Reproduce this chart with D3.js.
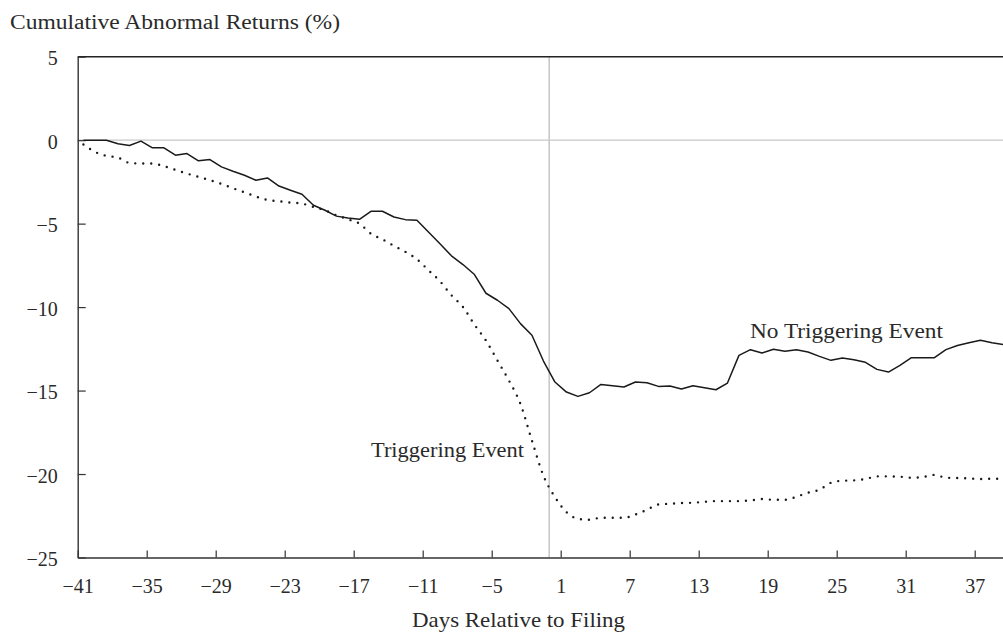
<!DOCTYPE html>
<html>
<head>
<meta charset="utf-8">
<script src="https://cdn.jsdelivr.net/npm/d3@7"></script>
<style>
  body { margin: 0; background: #fff; }
  svg { display: block; overflow: hidden; }
  text { font-family: 'Liberation Serif', 'Times New Roman', serif; fill: #2a2a2a; }
</style>
</head>
<body>
<div id="chart"></div>
<script>
// Days relative to filing (-41 .. 39)
const days = d3.range(-41, 40);

// No triggering event (solid line)
const noTrigger = [
  0, 0, 0, -0.22, -0.32, -0.06, -0.46, -0.46, -0.9, -0.8,
  -1.24, -1.16, -1.6, -1.86, -2.1, -2.4, -2.26, -2.75, -3.0, -3.24,
  -3.9, -4.2, -4.55, -4.66, -4.74, -4.26, -4.26, -4.6, -4.76, -4.8,
  -5.5, -6.2, -6.93, -7.45, -8.05, -9.17, -9.59, -10.09, -10.99, -11.69,
  -13.23, -14.49, -15.09, -15.35, -15.13, -14.63, -14.71, -14.79, -14.49, -14.53,
  -14.75, -14.73, -14.91, -14.71, -14.83, -14.95, -14.55, -12.89, -12.55, -12.75,
  -12.53, -12.65, -12.55, -12.69, -12.95, -13.19, -13.05, -13.15, -13.31, -13.73,
  -13.89, -13.49, -13.03, -13.03, -13.03, -12.55, -12.3, -12.13, -11.99, -12.13,
  -12.25
];

// Triggering event (dotted line)
const trigger = [
  -0.26, -0.7, -0.94, -1.04, -1.36, -1.4, -1.4, -1.56, -1.78, -2.0,
  -2.2, -2.4, -2.62, -2.88, -3.12, -3.38, -3.58, -3.66, -3.74, -3.8,
  -4.0, -4.2, -4.5, -4.74, -5.0, -5.6, -5.94, -6.33, -6.69, -7.13,
  -7.79, -8.45, -9.29, -9.99, -11.05, -12.0, -13.2, -14.4, -15.8, -18.0,
  -20.1, -21.38, -22.28, -22.68, -22.74, -22.62, -22.62, -22.62, -22.42, -22.14,
  -21.82, -21.78, -21.74, -21.72, -21.66, -21.62, -21.62, -21.62, -21.58, -21.5,
  -21.54, -21.54, -21.36, -21.12, -20.94, -20.52, -20.4, -20.38, -20.3, -20.14,
  -20.14, -20.16, -20.22, -20.18, -20.05, -20.22, -20.24, -20.26, -20.3, -20.28,
  -20.28
];

const xTicks = d3.range(-41, 38, 6);
const yTicks = [5, 0, -5, -10, -15, -20, -25];

const width = 1003;
const height = 632;
const plotLeft = 77.7;
const plotRight = 1009.2;
const plotTop = 56.7;
const plotBottom = 557.5;

const svg = d3.select('#chart')
  .append('svg')
  .attr('width', width)
  .attr('height', height);

// Band scale for the daily points, linear scale for the tick positions
const xBand = d3.scaleBand()
  .domain(days)
  .range([plotLeft, plotRight])
  .padding(0);

const xAxisScale = d3.scaleLinear()
  .domain([days[0], days[days.length - 1] + 1])
  .range([plotLeft, plotRight]);

const y = d3.scaleLinear()
  .domain([-25, 5])
  .range([plotBottom, plotTop]);

const xPos = d => xBand(d) + xBand.bandwidth() / 2;

// Zero line and filing-day line
svg.append('line')
  .attr('x1', plotLeft).attr('x2', plotRight)
  .attr('y1', y(0)).attr('y2', y(0))
  .attr('stroke', '#c8c8c8')
  .attr('stroke-width', 1.2);

svg.append('line')
  .attr('x1', xAxisScale(0)).attr('x2', xAxisScale(0))
  .attr('y1', plotTop).attr('y2', plotBottom)
  .attr('stroke', '#c8c8c8')
  .attr('stroke-width', 1.6);

// Top border
svg.append('line')
  .attr('x1', plotLeft).attr('x2', plotRight)
  .attr('y1', y(5)).attr('y2', y(5))
  .attr('stroke', '#222')
  .attr('stroke-width', 1.4);

// Axes
const yAxis = d3.axisLeft(y)
  .tickValues(yTicks)
  .tickSize(-8)
  .tickSizeOuter(0)
  .tickPadding(20);

const gy = svg.append('g')
  .attr('transform', `translate(${plotLeft},0)`)
  .call(yAxis);
gy.select('.domain').attr('stroke', '#333').attr('stroke-width', 1.4);
gy.selectAll('.tick line').attr('stroke', '#333').attr('stroke-width', 1.2);
gy.selectAll('.tick text')
  .attr('dy', '0.4em')
  .style('font-size', '20px')
  .style('font-family', "'Liberation Serif', serif")
  .attr('fill', '#2a2a2a');

const xAxis = d3.axisBottom(xAxisScale)
  .tickValues(xTicks)
  .tickSize(-7)
  .tickSizeOuter(0)
  .tickPadding(21)
  .tickFormat(d3.format('d'));

const gx = svg.append('g')
  .attr('transform', `translate(0,${plotBottom})`)
  .call(xAxis);
gx.select('.domain').attr('stroke', '#333').attr('stroke-width', 1.4);
gx.selectAll('.tick line').attr('stroke', '#333').attr('stroke-width', 1.2);
gx.selectAll('.tick text')
  .style('font-size', '20px')
  .style('font-family', "'Liberation Serif', serif")
  .attr('fill', '#2a2a2a');

// Lines
const solidLine = d3.line()
  .x((d, i) => xPos(days[i]))
  .y(d => y(d));

const dottedLine = d3.line()
  .x((d, i) => xPos(days[i]))
  .y(d => y(d))
  .curve(d3.curveMonotoneX);

svg.append('path')
  .datum(trigger)
  .attr('d', dottedLine)
  .attr('fill', 'none')
  .attr('stroke', '#1a1a1a')
  .attr('stroke-width', 2.4)
  .attr('stroke-linecap', 'round')
  .attr('stroke-dasharray', '0,8');

svg.append('path')
  .datum(noTrigger)
  .attr('d', solidLine)
  .attr('fill', 'none')
  .attr('stroke', '#1a1a1a')
  .attr('stroke-width', 1.5)
  .attr('stroke-linejoin', 'round');

// Text labels
const addText = (txt, x, yy, len, size) => {
  svg.append('text')
    .attr('x', x)
    .attr('y', yy)
    .attr('textLength', len)
    .attr('lengthAdjust', 'spacingAndGlyphs')
    .style('font-size', size + 'px')
    .text(txt);
};

addText('Cumulative Abnormal Returns (%)', 10, 28.5, 330, 20);
addText('Days Relative to Filing', 412, 627, 213, 21);
addText('No Triggering Event', 750, 337.5, 193, 21);
addText('Triggering Event', 371, 456.7, 153, 21);
</script>
</body>
</html>
